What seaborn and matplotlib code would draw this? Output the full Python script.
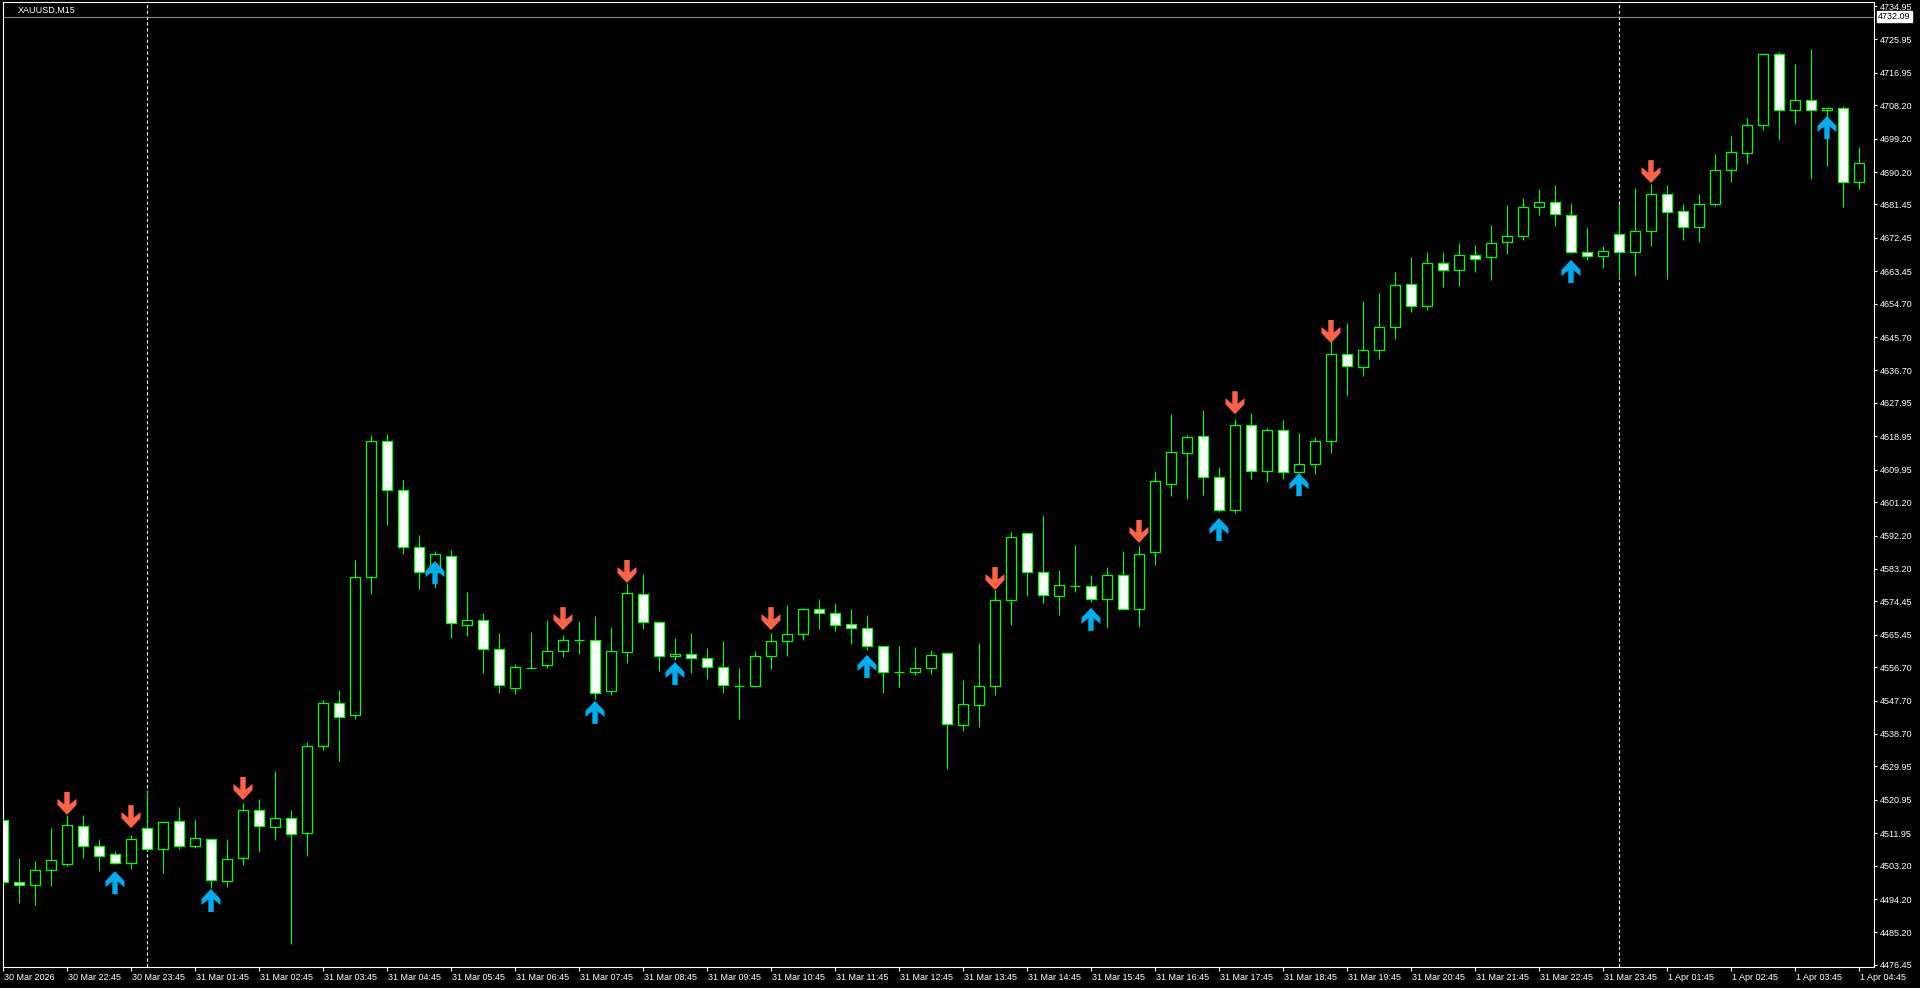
import numpy as np
import seaborn as sns
import matplotlib.pyplot as plt
from matplotlib.path import Path
from matplotlib.transforms import ScaledTranslation

sns.set_style("dark", rc={"axes.facecolor": "black", "figure.facecolor": "black"})
plt.rcParams["font.family"] = ["Liberation Sans", "DejaVu Sans"]

symbol = "XAUUSD,M15"
bid_price = 4732.09

# XAUUSD M15 candles, 30 Mar 21:45 .. 1 Apr 04:45
opens = [4515.5, 4498.8, 4498.0, 4502.0, 4503.6, 4513.9, 4508.5, 4506.3, 4503.9, 4513.3,
         4507.7, 4515.2, 4508.5, 4510.4, 4499.1, 4505.3, 4518.2, 4513.6, 4516.0, 4512.0,
         4535.5, 4547.0, 4543.7, 4581.0, 4617.7, 4604.5, 4589.1, 4582.4, 4586.7, 4568.2,
         4569.4, 4561.6, 4551.1, 4556.6, 4557.3, 4561.1, 4564.0, 4564.0, 4550.3, 4560.8,
         4576.4, 4568.9, 4559.7, 4560.2, 4559.2, 4556.7, 4551.6, 4551.6, 4559.7, 4563.8,
         4565.6, 4572.4, 4571.3, 4568.3, 4567.2, 4562.4, 4555.4, 4555.4, 4556.5, 4560.5,
         4541.1, 4546.5, 4551.6, 4574.8, 4592.9, 4582.4, 4575.9, 4578.6, 4578.6, 4575.1,
         4581.5, 4572.4, 4587.7, 4606.1, 4614.4, 4619.0, 4607.9, 4599.1, 4622.0, 4609.6,
         4620.6, 4609.3, 4611.5, 4617.7, 4641.1, 4637.6, 4642.2, 4648.4, 4660.0, 4654.1,
         4665.7, 4663.8, 4667.8, 4667.3, 4671.3, 4672.9, 4680.8, 4682.1, 4678.6, 4668.6,
         4667.6, 4673.5, 4668.6, 4674.3, 4684.3, 4679.7, 4675.4, 4681.6, 4690.7, 4695.3,
         4702.9, 4722.0, 4706.9, 4709.6, 4706.9, 4707.5, 4687.5]
highs = [4519.0, 4505.3, 4504.4, 4513.3, 4516.9, 4516.9, 4510.4, 4507.1, 4511.5, 4523.6,
         4515.0, 4519.0, 4515.5, 4510.4, 4510.4, 4520.1, 4521.2, 4528.7, 4518.2, 4536.5,
         4547.8, 4550.6, 4585.6, 4619.3, 4619.6, 4607.2, 4592.3, 4588.0, 4588.3, 4577.0,
         4571.3, 4565.9, 4557.6, 4566.2, 4569.4, 4565.4, 4569.1, 4570.5, 4567.5, 4579.4,
         4581.8, 4569.1, 4564.6, 4565.9, 4561.9, 4563.8, 4556.5, 4561.1, 4565.9, 4573.5,
         4572.7, 4575.1, 4574.0, 4572.4, 4570.8, 4562.4, 4562.4, 4562.1, 4561.3, 4560.8,
         4553.2, 4563.2, 4577.5, 4593.1, 4592.9, 4597.5, 4582.9, 4589.6, 4581.5, 4583.7,
         4588.0, 4589.4, 4609.6, 4624.9, 4619.3, 4626.0, 4610.7, 4623.6, 4625.2, 4621.2,
         4623.3, 4619.8, 4618.7, 4649.0, 4649.5, 4655.4, 4657.6, 4663.2, 4667.3, 4668.6,
         4668.6, 4671.1, 4670.5, 4675.9, 4681.3, 4683.2, 4685.6, 4686.7, 4681.8, 4675.1,
         4670.2, 4681.6, 4685.9, 4687.0, 4686.7, 4681.6, 4684.3, 4695.1, 4699.9, 4704.8,
         4722.0, 4722.5, 4719.3, 4723.4, 4707.5, 4708.0, 4696.9]
lows = [4498.0, 4493.1, 4492.6, 4497.7, 4503.1, 4505.3, 4501.7, 4503.6, 4502.3, 4507.1,
        4501.2, 4507.7, 4508.0, 4497.2, 4497.4, 4503.4, 4507.0, 4510.1, 4482.1, 4505.8,
        4534.5, 4531.4, 4542.7, 4576.4, 4595.0, 4587.2, 4577.8, 4578.0, 4564.6, 4565.1,
        4555.1, 4549.7, 4549.5, 4556.6, 4556.5, 4559.5, 4560.3, 4548.1, 4549.2, 4557.8,
        4567.0, 4555.7, 4558.6, 4555.1, 4553.5, 4549.7, 4542.7, 4551.4, 4556.2, 4559.7,
        4564.0, 4567.0, 4566.5, 4562.9, 4561.3, 4549.7, 4551.4, 4554.6, 4554.9, 4529.2,
        4539.5, 4540.6, 4549.2, 4568.1, 4575.9, 4574.0, 4570.8, 4577.0, 4574.3, 4567.3,
        4572.4, 4567.5, 4584.2, 4602.9, 4602.0, 4603.1, 4598.5, 4598.3, 4607.4, 4606.6,
        4607.4, 4609.0, 4608.8, 4614.4, 4630.1, 4635.2, 4639.8, 4645.2, 4652.5, 4653.0,
        4659.2, 4659.5, 4663.2, 4661.1, 4668.1, 4671.9, 4678.6, 4675.6, 4668.4, 4666.5,
        4664.3, 4661.3, 4662.2, 4670.2, 4661.3, 4671.9, 4671.3, 4681.0, 4687.5, 4692.4,
        4701.5, 4699.1, 4703.1, 4688.3, 4691.8, 4680.8, 4685.6]
closes = [4498.8, 4498.0, 4502.0, 4504.7, 4514.2, 4508.5, 4505.8, 4503.9, 4510.4, 4507.7,
          4515.0, 4508.5, 4510.6, 4499.3, 4505.0, 4518.2, 4513.9, 4516.0, 4511.7, 4535.5,
          4547.0, 4543.3, 4581.0, 4617.7, 4604.5, 4589.1, 4582.4, 4587.2, 4568.6, 4569.3,
          4561.6, 4551.9, 4556.7, 4556.6, 4561.1, 4564.0, 4564.0, 4549.7, 4561.1, 4576.7,
          4568.9, 4559.7, 4560.2, 4559.2, 4556.7, 4551.9, 4551.6, 4559.7, 4563.8, 4565.6,
          4572.4, 4571.3, 4568.1, 4567.2, 4562.4, 4555.4, 4555.4, 4556.5, 4560.0, 4541.4,
          4546.8, 4551.6, 4574.8, 4591.8, 4582.4, 4576.2, 4578.8, 4578.6, 4575.1, 4581.5,
          4572.4, 4587.2, 4606.9, 4614.7, 4618.7, 4607.9, 4599.1, 4622.0, 4609.6, 4620.6,
          4609.3, 4611.5, 4617.7, 4641.1, 4637.9, 4642.2, 4648.4, 4659.7, 4654.1, 4665.7,
          4663.8, 4667.8, 4666.7, 4671.1, 4672.9, 4680.8, 4682.1, 4678.9, 4668.6, 4667.6,
          4668.9, 4668.6, 4674.3, 4684.3, 4679.4, 4675.4, 4681.6, 4690.7, 4695.6, 4702.9,
          4722.0, 4706.9, 4709.6, 4706.9, 4707.5, 4687.5, 4692.6]

# indicator arrows: bar index and price of the arrow tip
sell_bars = [4, 8, 15, 35, 39, 48, 62, 71, 77, 83, 103]
sell_prices = [4516.9, 4513.3, 4520.9, 4566.7, 4579.4, 4566.7, 4577.5, 4590.2, 4624.9, 4644.1, 4687.2]
buy_bars = [7, 13, 27, 37, 42, 54, 68, 76, 81, 98, 114]
buy_prices = [4501.7, 4496.9, 4585.3, 4547.6, 4558.1, 4560.0, 4572.7, 4596.9, 4609.0, 4666.5, 4705.3]

day_breaks = [9, 101]

price_ticks = [4734.95, 4725.95, 4716.95, 4708.20, 4699.20, 4690.20, 4681.45, 4672.45, 4663.45, 4654.70,
               4645.70, 4636.70, 4627.95, 4618.95, 4609.95, 4601.20, 4592.20, 4583.20, 4574.45, 4565.45,
               4556.70, 4547.70, 4538.70, 4529.95, 4520.95, 4511.95, 4503.20, 4494.20, 4485.20, 4476.45]
time_labels = ["30 Mar 2026", "30 Mar 22:45", "30 Mar 23:45", "31 Mar 01:45", "31 Mar 02:45",
               "31 Mar 03:45", "31 Mar 04:45", "31 Mar 05:45", "31 Mar 06:45", "31 Mar 07:45",
               "31 Mar 08:45", "31 Mar 09:45", "31 Mar 10:45", "31 Mar 11:45", "31 Mar 12:45",
               "31 Mar 13:45", "31 Mar 14:45", "31 Mar 15:45", "31 Mar 16:45", "31 Mar 17:45",
               "31 Mar 18:45", "31 Mar 19:45", "31 Mar 20:45", "31 Mar 21:45", "31 Mar 22:45",
               "31 Mar 23:45", "1 Apr 01:45", "1 Apr 02:45", "1 Apr 03:45", "1 Apr 04:45"]
time_label_bars = list(range(0, 117, 4))

W, H = 1920, 988
fig = plt.figure(figsize=(W / 100, H / 100), dpi=100)
ax = fig.add_axes([2.5 / W, 21 / H, 1871.5 / W, 964.5 / H])
ax.set_facecolor("black")

o = np.array(opens)
c = np.array(closes)
x = np.arange(len(o))
lime = "#00FF00"

# background lines
for b in day_breaks:
    ax.axvline(b, color="white", lw=0.8, ls=(0, (3, 2.2)), zorder=1)
ax.axhline(bid_price, color="#778899", lw=0.8, zorder=1)

# candles: wicks then bodies (bull hollow, bear white)
ax.vlines(x, lows, highs, color=lime, lw=0.8, zorder=2)
body_fill = np.where(c >= o, "black", "white")
ax.bar(x, np.abs(c - o), bottom=np.minimum(o, c), width=0.58,
       color=body_fill, edgecolor=lime, linewidth=0.9, zorder=3)

# arrow markers, tip at the origin
down_verts = [(0, 0), (9.5, 10), (9.5, 16), (2.7, 10.5), (2.7, 23), (-2.7, 23),
              (-2.7, 10.5), (-9.5, 16), (-9.5, 10), (0, 0)]
down_arrow = Path(down_verts, closed=True)
up_arrow = Path([(vx, -vy) for vx, vy in down_verts], closed=True)
msize = (46 * 72 / 100) ** 2

sns.scatterplot(x=sell_bars, y=sell_prices, marker=down_arrow, s=msize, color="#FF6347",
                edgecolor="none", linewidth=0, ax=ax, zorder=5)
sns.scatterplot(x=buy_bars, y=buy_prices, marker=up_arrow, s=msize, color="#00AEEF",
                edgecolor="none", linewidth=0, ax=ax, zorder=5)

ax.set_xlim(-0.031, 116.94)
ax.set_ylim(4475.87, 4735.90)
ax.set_xlabel("")
ax.set_ylabel("")
ax.grid(False)

for s in ax.spines.values():
    s.set_color("white")
    s.set_linewidth(0.8)
    s.set_visible(True)

ax.yaxis.tick_right()
ax.set_yticks(price_ticks)
ax.set_yticklabels([f"{p:.2f}" for p in price_ticks])
ax.set_xticks(time_label_bars)
ax.set_xticklabels(time_labels)
ax.tick_params(axis="y", colors="white", length=2.5, width=0.8, pad=1.5, labelsize=6.5,
               left=False, right=True)
ax.tick_params(axis="x", colors="white", length=3, width=0.8, pad=1.5, labelsize=6.5, bottom=True)
shift = ScaledTranslation(1.5 / 100, 0, fig.dpi_scale_trans)
for lab in ax.get_xticklabels():
    lab.set_horizontalalignment("left")
    lab.set_transform(lab.get_transform() + shift)

fig.text(18 / W, 1 - 10.7 / H, symbol, color="white", fontsize=6.5, va="center", ha="left")
fig.text(1878 / W, 1 - 16.8 / H, f"{bid_price:.2f}", color="black", fontsize=6.5, va="center",
         ha="left", bbox=dict(facecolor="white", edgecolor="white", pad=0.8))

fig.savefig("out.png", dpi=100, facecolor="black")
